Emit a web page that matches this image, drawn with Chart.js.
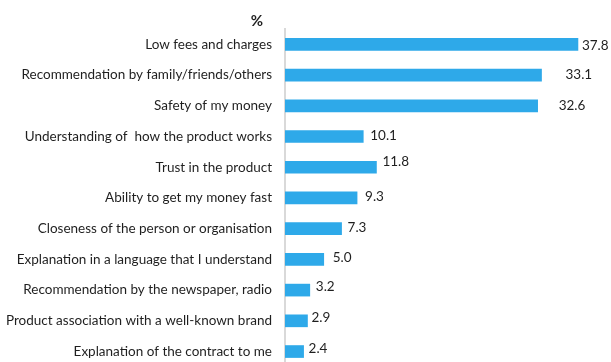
<!DOCTYPE html>
<html>
<head>
<meta charset="utf-8">
<script src="https://cdn.jsdelivr.net/npm/chart.js@4"></script>
<style>
  html, body { margin: 0; padding: 0; background: #fff; overflow: hidden; }
  canvas { display: block; }
</style>
</head>
<body>
<canvas id="reasonsChart" width="611" height="388"></canvas>
<script>
const reasons = [
    'Low fees and charges',
    'Recommendation by family/friends/others',
    'Safety of my money',
    'Understanding of  how the product works',
    'Trust in the product',
    'Ability to get my money fast',
    'Closeness of the person or organisation',
    'Explanation in a language that I understand',
    'Recommendation by the newspaper, radio',
    'Product association with a well-known brand',
    'Explanation of the contract to me'
];
const shares = [37.8, 33.1, 32.6, 10.1, 11.8, 9.3, 7.3, 5.0, 3.2, 2.9, 2.4];

// hand-placed data label nudges [dx, dy] in px
const labelShift = [[4, 1], [24, 0], [21, 0], [7, -1], [6, -6], [8, -1], [6, -1], [9, -2], [6, -3], [4, -3], [5, -3]];

const FONT = 'Lato, "Open Sans", sans-serif';
const TEXT = '#1f1f1f';

// value labels + the "%" header
const valueLabels = {
    id: 'valueLabels',
    afterDatasetsDraw(chart) {
        const { ctx, chartArea } = chart;
        const meta = chart.getDatasetMeta(0);
        ctx.save();
        ctx.font = '13.5px ' + FONT;
        ctx.fillStyle = TEXT;
        ctx.textAlign = 'left';
        ctx.textBaseline = 'middle';
        meta.data.forEach((bar, i) => {
            const [dx, dy] = labelShift[i];
            ctx.fillText(shares[i].toFixed(1), bar.x + dx, bar.y + dy);
        });
        ctx.font = 'bold 15px ' + FONT;
        ctx.textAlign = 'center';
        ctx.fillText('%', chartArea.left - 28, chartArea.top - 8);
        ctx.restore();
    }
};

const ctx = document.getElementById('reasonsChart').getContext('2d');
new Chart(ctx, {
    type: 'bar',
    data: {
        labels: reasons,
        datasets: [{
            data: shares,
            backgroundColor: '#2EA9E9',
            barThickness: 12
        }]
    },
    options: {
        indexAxis: 'y',
        responsive: false,
        animation: false,
        layout: { padding: { top: 29, right: 16, bottom: 0, left: 0 } },
        plugins: {
            legend: { display: false },
            tooltip: { enabled: false }
        },
        scales: {
            x: { display: false, min: 0, max: 40 },
            y: {
                afterFit(scale) { scale.width = 285; },
                grid: { display: false, drawTicks: false },
                border: { display: true, color: '#d9d9d9', width: 2 },
                ticks: {
                    autoSkip: false,
                    padding: 13,
                    color: TEXT,
                    font: { family: FONT, size: 13.5 }
                }
            }
        }
    },
    plugins: [valueLabels]
});
</script>
</body>
</html>
